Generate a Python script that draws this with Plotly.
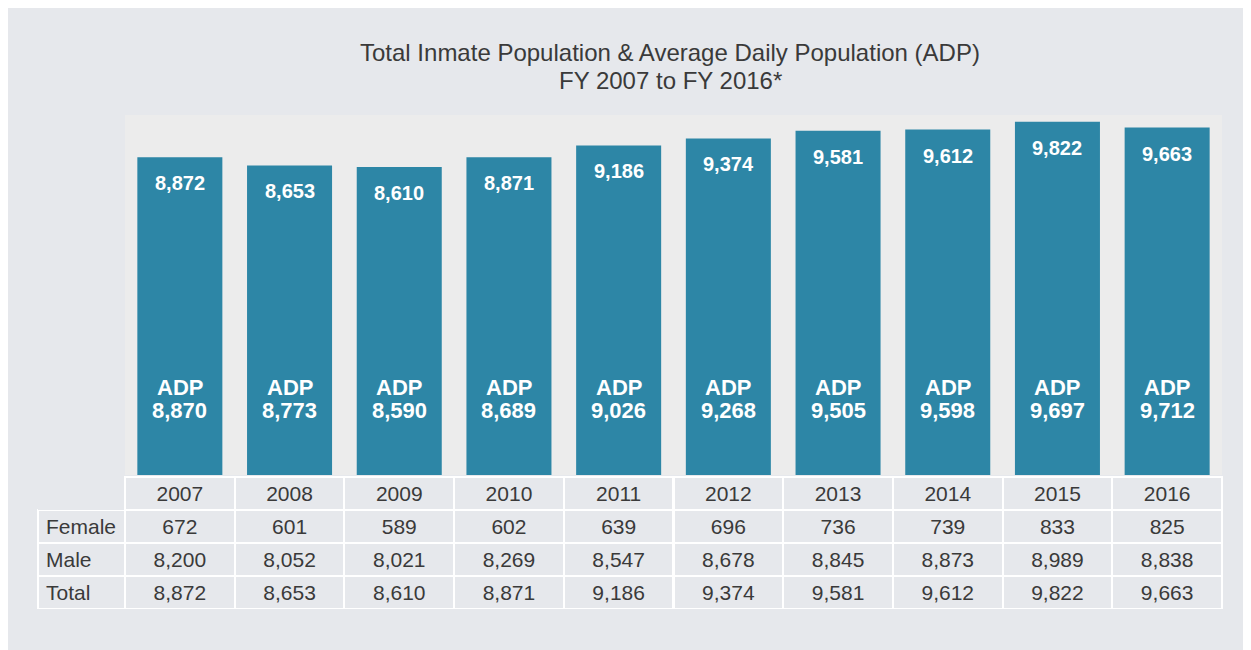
import plotly.graph_objects as go

years = ["2007", "2008", "2009", "2010", "2011", "2012", "2013", "2014", "2015", "2016"]
female = [672, 601, 589, 602, 639, 696, 736, 739, 833, 825]
male = [8200, 8052, 8021, 8269, 8547, 8678, 8845, 8873, 8989, 8838]
total = [8872, 8653, 8610, 8871, 9186, 9374, 9581, 9612, 9822, 9663]
adp = [8870, 8773, 8590, 8689, 9026, 9268, 9505, 9598, 9697, 9712]
row_labels = ["Female", "Male", "Total"]
title_lines = ["Total Inmate Population & Average Daily Population (ADP)", "FY 2007 to FY 2016*"]

W, H = 1251, 650
OFF = 8  # page body margin in the rendered screenshot
# target pixel positions (reference coordinates) converted to figure coordinates
L_TAB, L_BAR, R_PLOT = 38 - OFF, 125 - OFF, 1222 - OFF
T_PLOT, B_BAR, T_TAB, B_TAB = 115 - OFF, 475 - OFF, 477 - OFF, 609 - OFF
ML, MR, MT, MB = L_TAB, W - R_PLOT, T_PLOT, H - B_TAB
PW, PH = W - ML - MR, H - MT - MB

def px_x(x):
    return (x - OFF - ML) / PW

def px_y(y):
    return (H - MB - (y - OFF)) / PH

BG = "#e6e8ec"
PLOT_BG = "#ececec"
BAR = "#2d86a6"
TXT = "#3a3a3a"
FONT = "Liberation Sans, Arial, sans-serif"

fig = go.Figure()

fig.add_trace(go.Bar(
    x=years, y=total, marker=dict(color=BAR, line=dict(width=0)),
    hoverinfo="x+y", showlegend=False,
))

fmt = lambda v: f"{v:,}"

annotations = []
# on a category axis, annotation x is the category's serial number
for i, (t, a) in enumerate(zip(total, adp)):
    annotations.append(dict(x=i, y=t, xref="x", yref="y", text=fmt(t), showarrow=False,
                            yshift=-26, yanchor="middle",
                            font=dict(family=FONT, size=20, color="white", weight="bold")))
    annotations.append(dict(x=i, y=px_y(387), xref="x", yref="paper", text="ADP", showarrow=False,
                            yanchor="middle",
                            font=dict(family=FONT, size=22, color="white", weight="bold")))
    annotations.append(dict(x=i, y=px_y(410), xref="x", yref="paper", text=fmt(a), showarrow=False,
                            yanchor="middle",
                            font=dict(family=FONT, size=22, color="white", weight="bold")))

for line, yc in zip(title_lines, [52.5, 80.5]):
    annotations.append(dict(x=px_x(670), y=px_y(yc), xref="paper", yref="paper", text=line,
                            showarrow=False, xanchor="center", yanchor="middle",
                            font=dict(family=FONT, size=24, color=TXT)))

# table
ncols = len(years) + 1
header_vals = [""] + years
cell_vals = [row_labels] + [[fmt(f), fmt(m), fmt(t)] for f, m, t in zip(female, male, total)]
fig.add_trace(go.Table(
    domain=dict(x=[0, 1], y=[0, px_y(477)]),
    columnwidth=[87] + [109.7] * len(years),
    header=dict(
        values=header_vals,
        height=33,
        fill=dict(color=[BG] * ncols),
        line=dict(color=[BG] + ["white"] * len(years), width=[0] + [2] * len(years)),
        align="center",
        font=dict(family=FONT, size=21, color=TXT),
    ),
    cells=dict(
        values=cell_vals,
        height=33,
        fill=dict(color=BG),
        line=dict(color="white", width=2),
        align=["left"] + ["center"] * len(years),
        font=dict(family=FONT, size=21, color=TXT),
    ),
))

fig.update_layout(
    width=W, height=H,
    margin=dict(l=ML, r=MR, t=MT, b=MB, pad=0),
    paper_bgcolor=BG, plot_bgcolor=PLOT_BG,
    xaxis=dict(type="category", domain=[px_x(125), 1], range=[-0.5, len(years) - 0.5],
               showticklabels=False, showgrid=False, zeroline=False, showline=False, ticks=""),
    yaxis=dict(domain=[px_y(475), 1], range=[390, 10000], showticklabels=False, showgrid=False,
               zeroline=False, showline=False, ticks=""),
    bargap=0.225,
    annotations=annotations,
    font=dict(family=FONT),
)

fig.write_html("out.html")
